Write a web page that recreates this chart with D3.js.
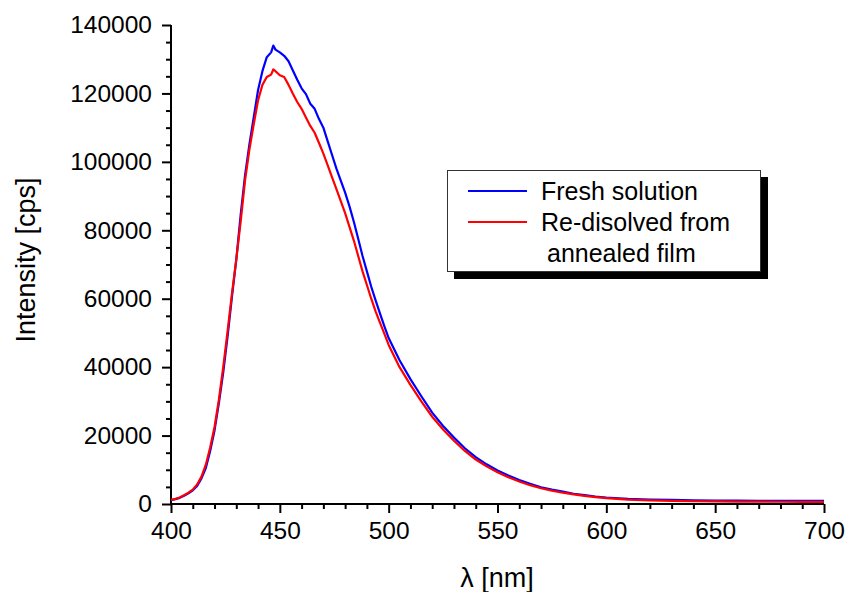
<!DOCTYPE html>
<html><head><meta charset="utf-8">
<script src="https://cdn.jsdelivr.net/npm/d3@7"></script>
<style>
body{margin:0;background:#fff;}
svg{display:block;font-family:"Liberation Sans",Arial,sans-serif;}
</style></head>
<body><svg id="c" width="848" height="592"></svg>
<script>
const wavelength = [400,402,404,406,408,410,412,414,416,418,420,422,424,426,428,430,432,434,436,438,440,442,444,446,447,448,450,452,454,456,458,460,462,464,466,468,470,472,474,476,478,480,482,484,486,488,490,492,494,496,498,500,505,510,515,520,525,530,535,540,545,550,555,560,565,570,575,580,585,590,595,600,610,620,630,640,650,660,670,680,690,700];
const freshSolution = [1100,1400,1800,2400,3100,4000,5300,7500,10500,15500,21500,29500,38500,49000,60500,71500,84500,96000,105000,113000,121000,126500,130600,132000,134000,132800,132000,131000,129400,126700,124000,121500,119800,117000,115500,112500,110000,106000,102000,98000,94500,91000,87000,82500,77500,72500,68000,63500,59500,55700,52000,48500,42000,36500,31500,26700,22800,19400,16300,13700,11600,9800,8300,7000,5900,4900,4200,3600,3000,2600,2200,1900,1500,1300,1200,1100,1000,980,950,920,900,900];
const redissolved = [1200,1500,1900,2600,3300,4200,5700,8000,11500,16500,22500,30500,40000,50500,61500,71500,82500,94500,103500,111000,118000,122500,124800,125500,127000,126500,125300,124800,122500,119900,117500,115500,113000,110500,108500,105500,102400,99000,95500,92000,88500,85000,81000,77000,72500,68000,64000,60000,56300,53000,49800,46500,40000,34800,30000,25500,21800,18500,15500,13000,11000,9300,7800,6600,5500,4600,3900,3300,2800,2400,2000,1700,1300,1050,900,800,750,700,680,660,650,650];
const xTicks = [400,450,500,550,600,650,700];
const yTicks = [0,20000,40000,60000,80000,100000,120000,140000];
const seriesNames = ["Fresh solution","Re-disolved from","annealed film"];
const seriesColors = ["#0000ff","#ff0000"];

const svg = d3.select("#c");
const x = d3.scaleLinear().domain([400,700]).range([171,824]);
const y = d3.scaleLinear().domain([0,140000]).range([504,25]);

const xMinor = d3.range(400,701,10).filter(v=>v%50!==0);
const yMinor = d3.range(0,140001,5000).filter(v=>v%20000!==0);

const gx = svg.append("g").attr("transform","translate(0,504)");
gx.call(d3.axisBottom(x).tickValues(xMinor).tickSize(5).tickFormat(""));
gx.selectAll(".tick line").attr("stroke","#000").attr("stroke-width",2);
gx.select(".domain").remove();
const gx2 = svg.append("g").attr("transform","translate(0,504)");
gx2.call(d3.axisBottom(x).tickValues(xTicks).tickSize(9).tickPadding(9).tickFormat(d3.format("d")));
gx2.selectAll(".tick line").attr("stroke","#000").attr("stroke-width",2);
gx2.selectAll(".tick text").attr("font-size",24.5).attr("fill","#000").attr("font-family","Liberation Sans, Arial, sans-serif");
gx2.select(".domain").attr("stroke","#000").attr("stroke-width",2).attr("d","M171,0H824");

const gy = svg.append("g").attr("transform","translate(171,0)");
gy.call(d3.axisLeft(y).tickValues(yMinor).tickSize(5).tickFormat(""));
gy.selectAll(".tick line").attr("stroke","#000").attr("stroke-width",2);
gy.select(".domain").remove();
const gy2 = svg.append("g").attr("transform","translate(171,0)");
gy2.call(d3.axisLeft(y).tickValues(yTicks).tickSize(9).tickPadding(10).tickFormat(d3.format("d")));
gy2.selectAll(".tick line").attr("stroke","#000").attr("stroke-width",2);
gy2.selectAll(".tick text").attr("font-size",24.5).attr("fill","#000").attr("font-family","Liberation Sans, Arial, sans-serif");
gy2.select(".domain").attr("stroke","#000").attr("stroke-width",2).attr("d","M0,25V504");

const line = d3.line().x((d,i)=>x(wavelength[i])).y(d=>y(d));
svg.append("path").datum(freshSolution).attr("d",line).attr("fill","none").attr("stroke",seriesColors[0]).attr("stroke-width",2.2).attr("stroke-linejoin","round");
svg.append("path").datum(redissolved).attr("d",line).attr("fill","none").attr("stroke",seriesColors[1]).attr("stroke-width",2.2).attr("stroke-linejoin","round");

svg.append("text").attr("transform","translate(26,260) rotate(-90)").attr("text-anchor","middle").attr("dy","0.35em").attr("font-size",27).text("Intensity [cps]");
svg.append("text").attr("x",497).attr("y",587).attr("text-anchor","middle").attr("font-size",27).text("λ [nm]");

const lg = svg.append("g");
lg.append("rect").attr("x",454).attr("y",177).attr("width",314).attr("height",102).attr("fill","#000");
lg.append("rect").attr("x",447.5).attr("y",170.5).attr("width",313).attr("height",101).attr("fill","#fff").attr("stroke","#333").attr("stroke-width",1);
lg.append("line").attr("x1",468).attr("x2",527).attr("y1",191).attr("y2",191).attr("stroke",seriesColors[0]).attr("stroke-width",2);
lg.append("line").attr("x1",468).attr("x2",527).attr("y1",222).attr("y2",222).attr("stroke",seriesColors[1]).attr("stroke-width",2);
lg.append("text").attr("x",541).attr("y",191).attr("dy","0.35em").attr("font-size",25).text(seriesNames[0]);
lg.append("text").attr("x",541).attr("y",222).attr("dy","0.35em").attr("font-size",25).text(seriesNames[1]);
lg.append("text").attr("x",547).attr("y",253).attr("dy","0.35em").attr("font-size",25).text(seriesNames[2]);
</script></body></html>
